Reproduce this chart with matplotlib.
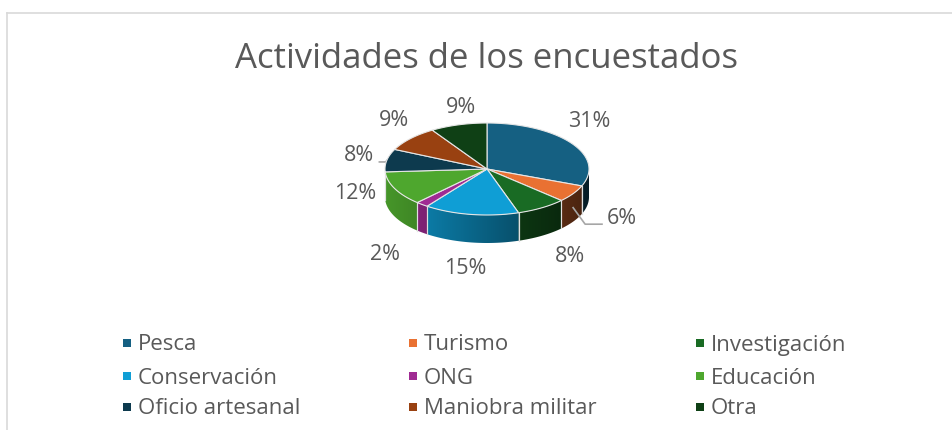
import numpy as np
import matplotlib
matplotlib.use("Agg")
import matplotlib.pyplot as plt
from matplotlib.patches import Polygon, Rectangle
from matplotlib.colors import to_rgb

# datos del grafico
categorias = ["Pesca", "Turismo", "Investigación", "Conservación", "ONG",
              "Educación", "Oficio artesanal", "Maniobra militar", "Otra"]
porcentajes = [31, 6, 8, 15, 2, 12, 8, 9, 9]
colores = ["#156082", "#E97132", "#196B24", "#0F9ED5", "#A02B93",
           "#4EA72E", "#0D3A4E", "#994111", "#0F4015"]
titulo = "Actividades de los encuestados"

# geometria del pastel (pixeles)
cx, cy = 487, 169
rx, ry = 102, 46
prof = 28
# ajustes de las etiquetas (dx, dy)
ajustes = [(-9, -5), (21, -19), (11, -4), (-1, -3), (-16, 0),
           (-10, -35), (5, 1), (8, 1), (12, 11)]
con_guia = [1, 6]

gris_txt = "#595959"
fuente = ["Open Sans", "DejaVu Sans"]

fig = plt.figure(figsize=(9.53, 4.30), dpi=100)
ax = fig.add_axes([0, 0, 1, 1])
ax.set_xlim(0, 953)
ax.set_ylim(430, 0)
ax.axis("off")

# borde del area del grafico
ax.plot([7, 952], [13, 13], color="#D9D9D9", lw=1.2)
ax.plot([7, 7], [13, 430], color="#D9D9D9", lw=1.2)


def punto(t, dy=0.0):
    # t en grados, sentido horario desde arriba
    th = np.radians(90 - t)
    return cx + rx * np.cos(th), cy - ry * np.sin(th) + dy


total = sum(porcentajes)
limites = np.concatenate([[0], np.cumsum(porcentajes)]) * 360.0 / total

# caras laterales (solo la mitad frontal), con degradado horizontal
xs = np.linspace(cx - rx, cx + rx, 256)
fac = 0.6 - 0.3 * (xs - cx) / rx
for i, c in enumerate(colores):
    a0 = max(limites[i], 90)
    a1 = min(limites[i + 1], 270)
    if a1 <= a0:
        continue
    ts = np.linspace(a0, a1, 80)
    arriba = [punto(t) for t in ts]
    abajo = [punto(t, prof) for t in ts[::-1]]
    poly = Polygon(arriba + abajo, closed=True, facecolor="none", edgecolor="none")
    ax.add_patch(poly)
    img = np.array(to_rgb(c))[None, None, :] * fac[None, :, None]
    im = ax.imshow(np.clip(img, 0, 1), extent=(cx - rx, cx + rx, cy + ry + prof + 2, cy - 2),
                   aspect="auto", interpolation="bilinear", zorder=1)
    im.set_clip_path(poly)
    for tl in (a0, a1):
        if 90 < tl < 270:
            x, y = punto(tl)
            ax.plot([x, x], [y, y + prof], color="#E0E0E0", lw=0.8, zorder=2)

ax.set_xlim(0, 953)
ax.set_ylim(430, 0)

# caras superiores
for i, c in enumerate(colores):
    ts = np.linspace(limites[i], limites[i + 1], 60)
    pts = [(cx, cy)] + [punto(t) for t in ts]
    ax.add_patch(Polygon(pts, closed=True, facecolor=c, edgecolor="#E6E6E6", lw=0.8, zorder=3))

# etiquetas de datos
for i, p in enumerate(porcentajes):
    tm = 0.5 * (limites[i] + limites[i + 1])
    th = np.radians(90 - tm)
    lx = cx + 135 * np.cos(th)
    ly = cy - 75 * np.sin(th) + (prof if np.sin(th) < 0 else 0)
    lx += ajustes[i][0]
    ly += ajustes[i][1]
    ax.text(lx, ly, f"{p}%", ha="center", va="center", fontsize=15.5,
            color=gris_txt, family=fuente)
    if i in con_guia:
        px, py = punto(tm, prof * 0.5 if np.sin(th) < 0 else 0)
        if np.cos(th) > 0:
            ex = lx - 20
            ax.plot([px, px + 12, ex], [py, ly + 6, ly + 6], color="#A6A6A6", lw=1.2)
        else:
            ex = lx + 20
            ax.plot([px, px - 1, ex], [py, ly + 6, ly + 6], color="#A6A6A6", lw=1.2)

# titulo
ax.text(487, 59, titulo, ha="center", va="center", fontsize=25,
        color=gris_txt, family=fuente)

# leyenda
col_x = [127, 413, 700]
fila_y = [343, 376, 407]
for i, (nom, c) in enumerate(zip(categorias, colores)):
    x = col_x[i % 3]
    y = fila_y[i // 3]
    ax.add_patch(Rectangle((x - 4, y - 4), 8, 8, facecolor=c, edgecolor="none"))
    ax.text(x + 11, y + 2, nom, ha="left", va="center", fontsize=16,
            color=gris_txt, family=fuente)

fig.savefig("out.png", dpi=100)
